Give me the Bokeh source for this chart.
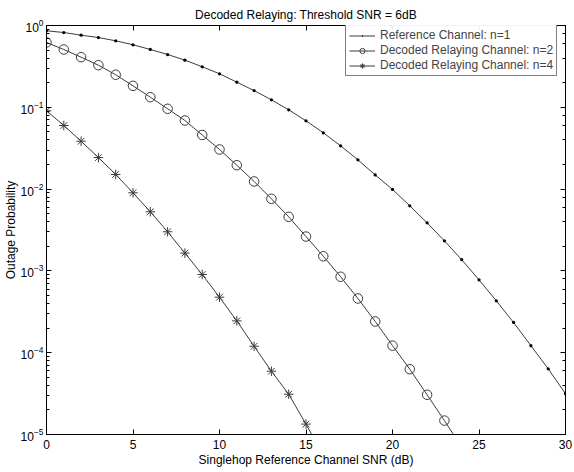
from bokeh.plotting import figure
from bokeh.models import LinearAxis, LogAxis, Legend, LegendItem, FixedTicker, Range1d
from bokeh.embed import file_html
from bokeh.resources import INLINE

snr_ref = list(range(0, 31))
ref_n1 = [0.861, 0.821, 0.761, 0.713, 0.650, 0.581, 0.509, 0.442, 0.377, 0.313,
          0.257, 0.203, 0.160, 0.1235, 0.0932, 0.0684, 0.0488, 0.0338, 0.0228, 0.0149,
          0.0099, 0.00625, 0.00387, 0.00233, 0.00137, 7.78e-4, 4.31e-4, 2.34e-4, 1.22e-4,
          6.35e-5, 3.15e-5]

snr_n2 = list(range(0, 25))
dr_n2 = [0.620, 0.509, 0.410, 0.327, 0.250, 0.183, 0.133, 0.0959, 0.069, 0.0459,
         0.0305, 0.0196, 0.0124, 7.61e-3, 4.58e-3, 2.63e-3, 1.51e-3, 8.48e-4, 4.60e-4,
         2.41e-4, 1.22e-4, 6.28e-5, 3.06e-5, 1.48e-5, 7.0e-6]

snr_n4 = list(range(0, 17))
dr_n4 = [0.0906, 0.0599, 0.0385, 0.0243, 0.0151, 9.01e-3, 5.28e-3, 3.01e-3, 1.65e-3,
         9.03e-4, 4.77e-4, 2.45e-4, 1.20e-4, 5.94e-5, 3.11e-5, 1.34e-5, 5.5e-6]

x_ticks = [0, 5, 10, 15, 20, 25, 30]
labels = ["Reference Channel: n=1", "Decoded Relaying Channel: n=2", "Decoded Relaying Channel: n=4"]

FONT = "Liberation Sans"
LC = "#3c3c3c"

p = figure(width=574, height=472, x_range=Range1d(0, 30), y_range=Range1d(1e-5, 1),
           y_axis_type="log", output_backend="svg", toolbar_location=None,
           title="Decoded Relaying: Threshold SNR = 6dB",
           min_border_left=0, min_border_right=9, min_border_top=25, min_border_bottom=38)
p.title.align = "center"
p.title.text_font = FONT
p.title.text_font_size = "12px"
p.title.text_font_style = "normal"
p.title.text_color = "black"
p.title.standoff = 8
p.grid.visible = False
p.outline_line_color = "black"
p.background_fill_color = "white"
p.border_fill_color = "white"

r1l = p.line(snr_ref, ref_n1, line_color=LC, line_width=1)
r1m = p.scatter(snr_ref, ref_n1, marker="dot", size=13, fill_color="black", line_color="black")
r2l = p.line(snr_n2, dr_n2, line_color=LC, line_width=1)
r2m = p.scatter(snr_n2, dr_n2, marker="circle", size=9.5, fill_color=None, line_color=LC, line_width=1)
r3l = p.line(snr_n4, dr_n4, line_color=LC, line_width=1)
r3m = p.scatter(snr_n4, dr_n4, marker="asterisk", size=9.5, line_color=LC, line_width=1)

def style(ax, show_labels=True):
    ax.axis_line_color = "black"
    ax.major_tick_line_color = "black"
    ax.minor_tick_line_color = "black"
    ax.major_tick_in = 5
    ax.major_tick_out = 0
    ax.minor_tick_in = 3
    ax.minor_tick_out = 0
    ax.major_label_text_font = FONT
    ax.major_label_text_font_size = "12px"
    ax.major_label_text_color = "black"
    ax.axis_label_text_font = FONT
    ax.axis_label_text_font_size = "12px"
    ax.axis_label_text_font_style = "normal"
    ax.axis_label_text_color = "black"
    if not show_labels:
        ax.major_label_text_font_size = "1px"
        ax.major_label_text_alpha = 0
        ax.major_label_standoff = 0
        ax.axis_label_standoff = 0

xa = p.xaxis[0]
xa.ticker = FixedTicker(ticks=x_ticks)
xa.axis_label = "Singlehop Reference Channel SNR (dB)"
xa.axis_label_standoff = 1
xa.major_label_standoff = 5
style(xa)

ya = p.yaxis[0]
ya.axis_label = "Outage Probability"
ya.axis_label_standoff = 0
ya.major_label_standoff = 3
style(ya)

top = LinearAxis(ticker=FixedTicker(ticks=x_ticks))
style(top, False)
p.add_layout(top, "above")
right = LogAxis()
style(right, False)
p.add_layout(right, "right")

legend = Legend(items=[LegendItem(label=labels[0], renderers=[r1l, r1m]),
                       LegendItem(label=labels[1], renderers=[r2l, r2m]),
                       LegendItem(label=labels[2], renderers=[r3l, r3m])],
                location=(299, 358))
legend.border_line_color = "black"
legend.border_line_width = 1
legend.label_text_font = FONT
legend.label_text_font_size = "12px"
legend.label_height = 13
legend.glyph_height = 13
legend.glyph_width = 26
legend.spacing = 1
legend.padding = 3
legend.margin = 0
legend.label_standoff = 5
p.add_layout(legend)

open("out.html", "w").write(file_html(p, INLINE))
